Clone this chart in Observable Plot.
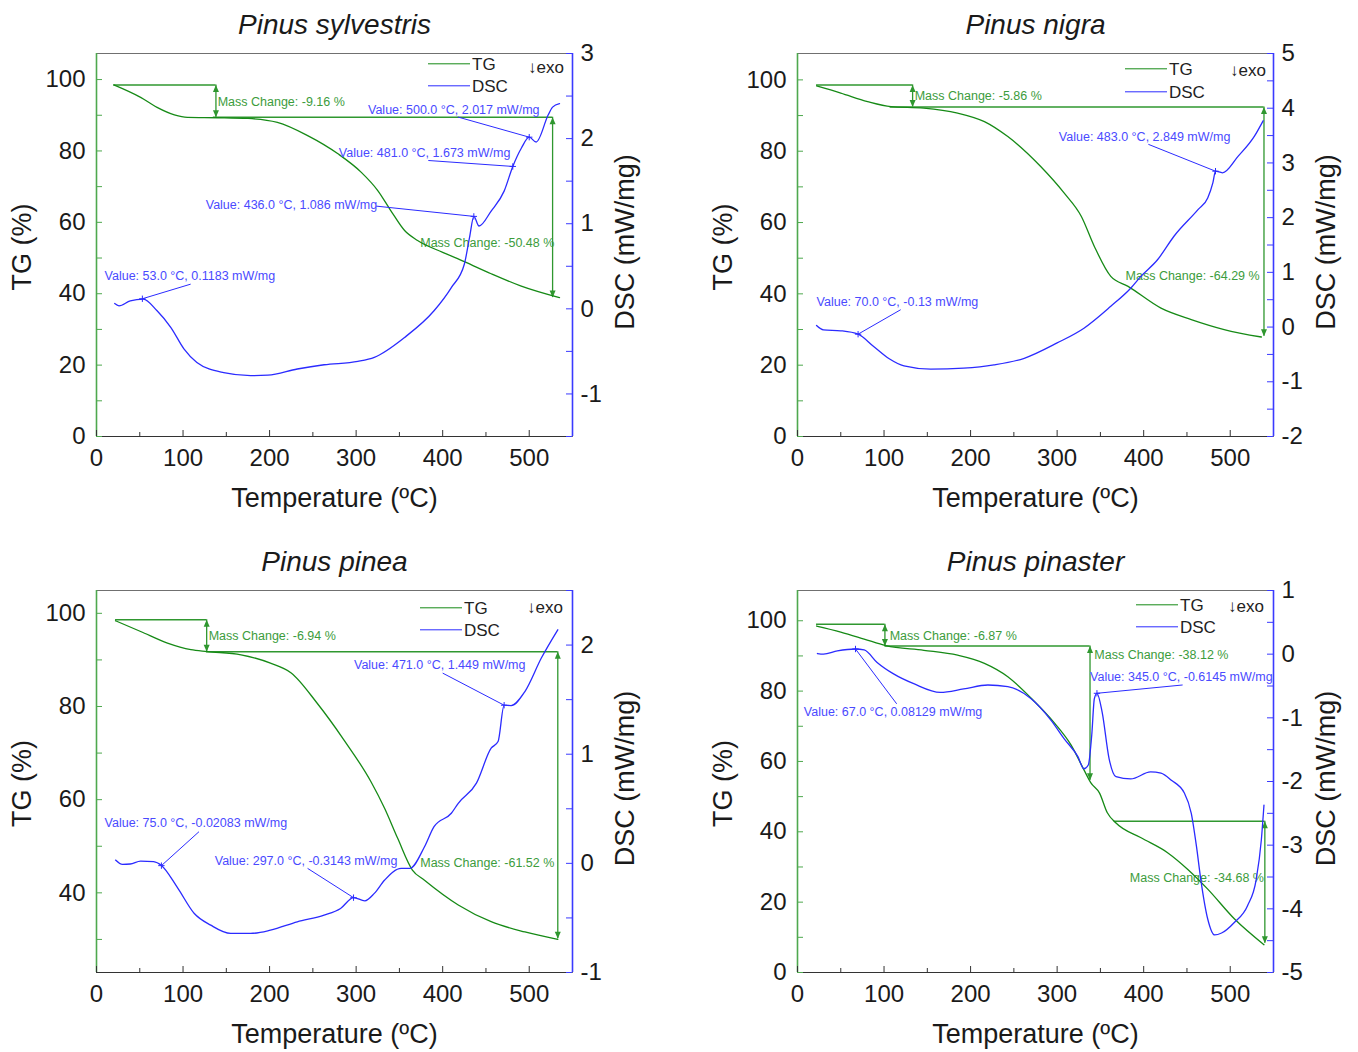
<!DOCTYPE html>
<html><head><meta charset="utf-8">
<script src="https://cdn.jsdelivr.net/npm/d3@7"></script>
<script src="https://cdn.jsdelivr.net/npm/@observablehq/plot@0.6"></script>
<style>
body{margin:0;background:#fff;overflow:hidden}
#chart{position:relative;width:1358px;height:1052px;background:#fff;font-family:"Liberation Sans",Arial,sans-serif}
.layer{position:absolute}
.leg{position:absolute;font-size:17px;color:#222;line-height:1;transform:translateY(-50%);white-space:nowrap}
.legline{position:absolute;height:1.4px;width:42px;transform:translateY(-50%)}
</style></head><body><div id="chart"></div><script>
// ---------- DATA ----------
const temperatureTicks = [0, 100, 200, 300, 400, 500];

// Pinus sylvestris
const sylvestrisTG = [[20,98.5],[51,95.0],[70,92.2],[90,90.1],[105,89.4],[140,89.3],[175,89.1],[209,88.0],[244,84.3],[279,79.2],[306,74.0],[325,68.9],[340,63.3],[356,57.7],[371,54.9],[400,51.6],[425,49.0],[456,45.6],[490,42.2],[535,38.9]];
const sylvestrisDSC = [[21,0.062],[26,0.035],[39,0.094],[54,0.115],[70,-0.023],[86,-0.22],[101,-0.47],[116,-0.63],[147,-0.75],[178,-0.785],[198,-0.78],[232,-0.707],[263,-0.657],[302,-0.618],[321,-0.57],[356,-0.336],[390,-0.023],[410,0.25],[425,0.524],[431,0.836],[436,1.086],[442,0.973],[456,1.149],[471,1.383],[481,1.673],[491,1.89],[500,2.017],[508,1.96],[522,2.28],[527,2.37],[535,2.41]];
const sylvestrisTGTicks = [0, 20, 40, 60, 80, 100];
const sylvestrisDSCTicks = [-1, 0, 1, 2, 3];
const sylvestrisLevels = [{tg: 98.5, from: 20, to: 138}, {tg: 89.45, from: 135, to: 527}];
const sylvestrisArrows = [{T: 138, from: 98.5, to: 89.45}, {T: 527, from: 89.45, to: 38.97}];
const sylvestrisMass = [
  {text: "Mass Change: -9.16 %", T: 140, tg: 93.8, align: "start"},
  {text: "Mass Change: -50.48 %", T: 529, tg: 54.3, align: "end"}];
const sylvestrisValues = [
  {text: "Value: 500.0 °C, 2.017 mW/mg", T: 500, dsc: 2.017, labelT: 313.7, labelDsc: 2.333, leadT: 417.5, leadDsc: 2.254},
  {text: "Value: 481.0 °C, 1.673 mW/mg", T: 481, dsc: 1.673, labelT: 280, labelDsc: 1.832, leadT: 383.4, leadDsc: 1.743},
  {text: "Value: 436.0 °C, 1.086 mW/mg", T: 436, dsc: 1.086, labelT: 126.2, labelDsc: 1.219, leadT: 323, leadDsc: 1.207},
  {text: "Value: 53.0 °C, 0.1183 mW/mg", T: 53, dsc: 0.1183, labelT: 9.3, labelDsc: 0.387, leadT: 108.8, leadDsc: 0.29}];

// Pinus nigra
const nigraTG = [[22,98.3],[50,96.3],[81,93.9],[108,92.5],[146,92.1],[185,90.7],[216,88.3],[243,84.1],[281,75.7],[308,68.3],[328,61.7],[343,53.3],[362,44.9],[382,42.1],[420,36.0],[455,32.8],[493,30.0],[536,27.9]];
const nigraDSC = [[22,0.03],[30,-0.05],[50,-0.068],[70,-0.13],[88,-0.355],[106,-0.58],[123,-0.71],[154,-0.77],[192,-0.75],[227,-0.69],[262,-0.57],[300,-0.29],[331,-0.02],[362,0.38],[385,0.71],[397,0.93],[416,1.23],[435,1.66],[463,2.15],[474,2.36],[480,2.64],[483,2.849],[491,2.82],[509,3.12],[528,3.49],[538,3.77]];
const nigraTGTicks = [0, 20, 40, 60, 80, 100];
const nigraDSCTicks = [-2, -1, 0, 1, 2, 3, 4, 5];
const nigraLevels = [{tg: 98.6, from: 22, to: 133}, {tg: 92.4, from: 107, to: 539}];
const nigraArrows = [{T: 133, from: 98.6, to: 92.4}, {T: 539, from: 92.4, to: 28.1}];
const nigraMass = [
  {text: "Mass Change: -5.86 %", T: 135.4, tg: 95.5, align: "start"},
  {text: "Mass Change: -64.29 %", T: 534, tg: 44.9, align: "end"}];
const nigraValues = [
  {text: "Value: 483.0 °C, 2.849 mW/mg", T: 483, dsc: 2.849, labelT: 302, labelDsc: 3.48, leadT: 405.4, leadDsc: 3.34},
  {text: "Value: 70.0 °C, -0.13 mW/mg", T: 70, dsc: -0.13, labelT: 22, labelDsc: 0.45, leadT: 119.2, leadDsc: 0.317}];

// Pinus pinea
const pineaTG = [[22,98.4],[51,96.1],[82,93.6],[109,92.2],[128,91.8],[167,91.1],[201,89.3],[225,87.2],[255,80.7],[286,72.8],[317,63.9],[333,58.1],[348,51.7],[365,44.9],[379,42.7],[418,37.4],[456,33.8],[495,31.6],[533,30.0]];
const pineaDSC = [[22,0.03],[30,-0.01],[39,-0.006],[51,0.021],[66,0.015],[75,-0.02],[93,-0.215],[113,-0.459],[132,-0.566],[155,-0.642],[178,-0.642],[201,-0.612],[232,-0.536],[263,-0.474],[282,-0.413],[297,-0.314],[310,-0.343],[321,-0.275],[333,-0.153],[352,-0.046],[362,-0.046],[379,0.152],[390,0.336],[410,0.459],[418,0.55],[439,0.735],[456,1.055],[464,1.116],[471,1.449],[479,1.446],[495,1.574],[514,1.881],[533,2.14]];
const pineaTGTicks = [40, 60, 80, 100];
const pineaDSCTicks = [-1, 0, 1, 2];
const pineaLevels = [{tg: 98.6, from: 22, to: 127.3}, {tg: 91.75, from: 127, to: 533}];
const pineaArrows = [{T: 127.3, from: 98.6, to: 91.75}, {T: 533, from: 91.75, to: 30.14}];
const pineaMass = [
  {text: "Mass Change: -6.94 %", T: 129.6, tg: 95.2, align: "start"},
  {text: "Mass Change: -61.52 %", T: 529, tg: 46.3, align: "end"}];
const pineaValues = [
  {text: "Value: 471.0 °C, 1.449 mW/mg", T: 471, dsc: 1.449, labelT: 297.5, labelDsc: 1.813, leadT: 400, leadDsc: 1.743},
  {text: "Value: 75.0 °C, -0.02083 mW/mg", T: 75, dsc: -0.02083, labelT: 9.3, labelDsc: 0.372, leadT: 118.4, leadDsc: 0.29},
  {text: "Value: 297.0 °C, -0.3143 mW/mg", T: 297, dsc: -0.3143, labelT: 136.6, labelDsc: 0.021, leadT: 243.9, leadDsc: -0.046}];

// Pinus pinaster
const pinasterTG = [[22,98.5],[50,96.8],[77,94.8],[102,92.9],[146,91.6],[185,90.2],[216,87.9],[243,84.1],[270,78.0],[297,70.9],[316,64.7],[331,57.6],[339,53.9],[349,51.0],[358,45.4],[368,42.5],[397,38.3],[428,34.0],[451,29.3],[474,23.7],[505,15.2],[539,7.9]];
const pinasterDSC = [[23,0.01],[30,0.0],[46,0.05],[67,0.081],[77,0.067],[92,-0.13],[111,-0.31],[135,-0.468],[165,-0.6],[192,-0.546],[220,-0.484],[243,-0.51],[270,-0.702],[293,-1.04],[308,-1.326],[324,-1.61],[331,-1.8],[336,-1.74],[340,-1.27],[343,-0.70],[346,-0.6145],[352,-0.91],[360,-1.64],[368,-1.925],[385,-1.96],[408,-1.85],[420,-1.87],[432,-1.98],[447,-2.18],[455,-2.5],[461,-3.02],[466,-3.54],[474,-4.16],[482,-4.41],[490,-4.38],[505,-4.21],[520,-3.95],[530,-3.54],[536,-2.91],[539,-2.37]];
const pinasterTGTicks = [0, 20, 40, 60, 80, 100];
const pinasterDSCTicks = [-5, -4, -3, -2, -1, 0, 1];
const pinasterLevels = [{tg: 99, from: 22, to: 101}, {tg: 92.8, from: 101, to: 338}, {tg: 43, from: 366, to: 540}];
const pinasterArrows = [{T: 101, from: 99, to: 92.8}, {T: 338, from: 92.8, to: 54.68}, {T: 540, from: 43, to: 8.32}];
const pinasterMass = [
  {text: "Mass Change: -6.87 %", T: 106.5, tg: 95.7, align: "start"},
  {text: "Mass Change: -38.12 %", T: 343, tg: 90.4, align: "start"},
  {text: "Mass Change: -34.68 %", T: 539, tg: 26.9, align: "end"}];
const pinasterValues = [
  {text: "Value: 67.0 °C, 0.08129 mW/mg", T: 67, dsc: 0.08129, labelT: 7.3, labelDsc: -0.911, leadT: 114.6, leadDsc: -0.78},
  {text: "Value: 345.0 °C, -0.6145 mW/mg", T: 346, dsc: -0.6145, labelT: 338, labelDsc: -0.365, leadT: 445, leadDsc: -0.484}];

// ---------- STYLE / LAYOUT ----------
const C = {tg: "#168a16", dsc: "#2b2bff", dscText: "#4a4aff", anno: "#2f972f", annoText: "#3c9c3c", axisG: "#4ea84e", axisB: "#3a3aff"};
const panels = [
  {title: "Pinus sylvestris", tg: sylvestrisTG, dsc: sylvestrisDSC, tgDomain: [0, 107.3], dscDomain: [-1.5, 3], tgLabels: sylvestrisTGTicks, dscLabels: sylvestrisDSCTicks, levels: sylvestrisLevels, arrows: sylvestrisArrows, mass: sylvestrisMass, values: sylvestrisValues,
   left: 0, top: 0, height: 516, legend: [332, 11, 33, 432, 14]},
  {title: "Pinus nigra", tg: nigraTG, dsc: nigraDSC, tgDomain: [0, 107.4], dscDomain: [-2, 5], tgLabels: nigraTGTicks, dscLabels: nigraDSCTicks, levels: nigraLevels, arrows: nigraArrows, mass: nigraMass, values: nigraValues,
   left: 701, top: 0, height: 516, legend: [328, 16, 39, 433, 17]},
  {title: "Pinus pinea", tg: pineaTG, dsc: pineaDSC, tgDomain: [22.9, 104.9], dscDomain: [-1, 2.5], tgLabels: pineaTGTicks, dscLabels: pineaDSCTicks, levels: pineaLevels, arrows: pineaArrows, mass: pineaMass, values: pineaValues,
   left: 0, top: 537, height: 515, legend: [324, 18, 40, 431, 17]},
  {title: "Pinus pinaster", tg: pinasterTG, dsc: pinasterDSC, tgDomain: [0, 108.6], dscDomain: [-5, 1], tgLabels: pinasterTGTicks, dscLabels: pinasterDSCTicks, levels: pinasterLevels, arrows: pinasterArrows, mass: pinasterMass, values: pinasterValues,
   left: 701, top: 537, height: 515, legend: [339, 15, 37, 431, 16]}
];

const upHead = {draw(ctx) { ctx.moveTo(0, 0); ctx.lineTo(3, 7); ctx.lineTo(-3, 7); ctx.closePath(); }};
const downHead = {draw(ctx) { ctx.moveTo(0, 0); ctx.lineTo(3, -7); ctx.lineTo(-3, -7); ctx.closePath(); }};

const W = 657, ML = 96, MR = 85, MT = 53, MB = 80;
const chart = document.getElementById("chart");

function drawPanel(p) {
  const fw = W - ML - MR, fh = p.height - MT - MB;
  const style = {fontFamily: '"Liberation Sans", Arial, sans-serif', fontSize: "24px", color: "#1a1a1a", background: "none", overflow: "visible"};
  const common = {width: W, height: p.height, marginLeft: ML, marginRight: MR, marginTop: MT, marginBottom: MB, style};
  const tgTickPos = d3.range(Math.ceil(p.tgDomain[0] / 10) * 10, p.tgDomain[1], 10);
  const dscTickPos = d3.range(Math.ceil(p.dscDomain[0] * 2) / 2, p.dscDomain[1] + 1e-9, 0.5);
  const txt = {text: d => d, textAnchor: "middle", lineAnchor: "middle"};

  const base = Plot.plot({...common,
    x: {domain: [0, 550]}, y: {domain: p.tgDomain},
    marks: [
      Plot.frame({stroke: "#707070"}),
      Plot.ruleX([0], {stroke: C.axisG, strokeWidth: 1.6}),
      Plot.ruleY([p.tgDomain[0]], {stroke: "#333", strokeWidth: 1.2}),
      Plot.tickX(d3.range(0, 551, 100), {x: d => d, insetTop: fh - 6, stroke: "#333"}),
      Plot.tickX(d3.range(50, 551, 100), {x: d => d, insetTop: fh - 4, stroke: "#333"}),
      Plot.tickY(tgTickPos, {y: d => d, insetRight: fw - 6, stroke: C.axisG}),
      Plot.axisX({ticks: temperatureTicks, tickSize: 0, tickPadding: 12, label: null, tickFormat: d => String(d)}),
      Plot.axisY({ticks: p.tgLabels, tickSize: 0, tickPadding: 11, label: null, tickFormat: d => String(d)}),
      Plot.text(["Temperature (ºC)"], {...txt, frameAnchor: "bottom", dy: 62, fontSize: 27}),
      Plot.text(["TG (%)"], {...txt, frameAnchor: "left", dx: -74, dy: 2, rotate: -90, fontSize: 27}),
      Plot.text([p.title], {...txt, frameAnchor: "top", dy: -28, fontSize: 28, fontStyle: "italic"}),
      Plot.ruleY(p.levels, {y: "tg", x1: "from", x2: "to", stroke: C.anno, strokeWidth: 1.5}),
      Plot.ruleX(p.arrows, {x: "T", y1: "from", y2: "to", stroke: C.anno, strokeWidth: 1.3}),
      Plot.dot(p.arrows, {x: "T", y: "from", symbol: upHead, fill: C.anno}),
      Plot.dot(p.arrows, {x: "T", y: "to", symbol: downHead, fill: C.anno}),
      Plot.text(p.mass.filter(d => d.align === "start"), {x: "T", y: "tg", text: "text", textAnchor: "start", fill: C.annoText, fontSize: 12.5}),
      Plot.text(p.mass.filter(d => d.align === "end"), {x: "T", y: "tg", text: "text", textAnchor: "end", fill: C.annoText, fontSize: 12.5}),
      Plot.line(p.tg, {x: d => d[0], y: d => d[1], stroke: C.tg, strokeWidth: 1.3, curve: "monotone-x"})
    ]});

  const over = Plot.plot({...common,
    x: {domain: [0, 550], axis: null}, y: {domain: p.dscDomain},
    marks: [
      Plot.ruleX([550], {stroke: C.axisB, strokeWidth: 1.6}),
      Plot.tickY(dscTickPos, {y: d => d, insetLeft: fw - 6, stroke: C.axisB}),
      Plot.axisY({anchor: "right", ticks: p.dscLabels, tickSize: 0, tickPadding: 8, label: null, tickFormat: d => String(d)}),
      Plot.text(["DSC (mW/mg)"], {...txt, frameAnchor: "right", dx: 53, dy: -3, rotate: -90, fontSize: 27}),
      Plot.line(p.dsc, {x: d => d[0], y: d => d[1], stroke: C.dsc, strokeWidth: 1.3, curve: "monotone-x"}),
      Plot.link(p.values, {x1: "leadT", y1: "leadDsc", x2: "T", y2: "dsc", stroke: C.dsc, strokeWidth: 1}),
      Plot.dot(p.values, {x: "T", y: "dsc", symbol: "plus", r: 2.2, stroke: C.dsc, strokeWidth: 1}),
      Plot.text(p.values, {x: "labelT", y: "labelDsc", text: "text", textAnchor: "start", fill: C.dscText, fontSize: 12.5})
    ]});

  for (const svg of [base, over]) {
    svg.classList.add("layer");
    svg.style.left = p.left + "px";
    svg.style.top = p.top + "px";
    chart.appendChild(svg);
  }

  // legend
  const fx = p.left + ML, fy = p.top + MT;
  const [lx, tgY, dscY, ex, ey] = p.legend;
  const add = (html) => chart.insertAdjacentHTML("beforeend", html);
  add(`<div class="legline" style="left:${fx + lx}px;top:${fy + tgY}px;background:${C.tg}"></div>`);
  add(`<div class="leg" style="left:${fx + lx + 44}px;top:${fy + tgY}px">TG</div>`);
  add(`<div class="legline" style="left:${fx + lx}px;top:${fy + dscY}px;background:${C.dsc}"></div>`);
  add(`<div class="leg" style="left:${fx + lx + 44}px;top:${fy + dscY}px">DSC</div>`);
  add(`<div class="leg" style="left:${fx + ex}px;top:${fy + ey}px">↓exo</div>`);
}

panels.forEach(drawPanel);
</script></body></html>
